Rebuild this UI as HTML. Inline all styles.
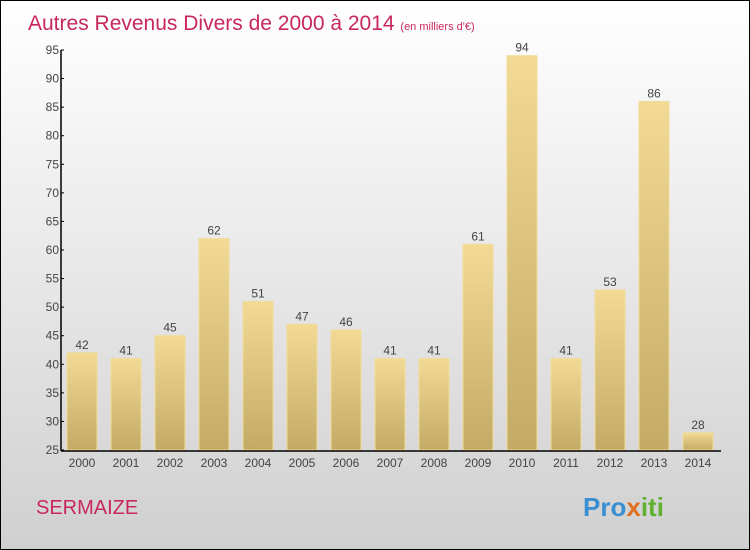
<!DOCTYPE html>
<html><head><meta charset="utf-8"><style>
body{margin:0}
#c{width:748px;height:548px;border:1px solid #000;background:linear-gradient(#fff,#d0d0d0);position:relative;font-family:"Liberation Sans",sans-serif;overflow:hidden}
</style></head><body>
<div id="c">
<svg width="748" height="548" id="s">
<defs><linearGradient id="g" x1="0" y1="0" x2="0" y2="1"><stop offset="0" stop-color="#f3da94"/><stop offset="1" stop-color="#c3aa65"/></linearGradient></defs>
<text x="27" y="29" font-size="21" fill="#c8285a">Autres Revenus Divers de 2000 à 2014 <tspan font-size="11">(en milliers d'€)</tspan></text>
<text x="35" y="513" font-size="20" fill="#c8285a">SERMAIZE</text>
<text x="582" y="515" font-size="26" font-weight="bold" fill="#3a8fd0">Pro<tspan fill="#e07020">x</tspan><tspan fill="#60b030">iti</tspan></text>
<g id="plot"></g>
</svg></div>
<script>
const years=["2000","2001","2002","2003","2004","2005","2006","2007","2008","2009","2010","2011","2012","2013","2014"];
const values=[42,41,45,62,51,47,46,41,41,61,94,41,53,86,28];
const yTicks=[25,30,35,40,45,50,55,60,65,70,75,80,85,90,95];
const ns="http://www.w3.org/2000/svg",p=document.getElementById('plot');
const y=v=>449-(v-25)*400/70, x=i=>81+i*44;
function mk(t,a){const e=document.createElementNS(ns,t);for(const k in a)e.setAttribute(k,a[k]);p.appendChild(e);return e;}
values.forEach((v,i)=>{
 const r=mk('rect',{x:x(i)-15,y:y(v),width:30,height:449-y(v),fill:'url(#g)',stroke:'#f0dc9a','stroke-width':1});
 
 
 const t=mk('text',{x:x(i),y:y(v)-4,'font-size':12,'text-anchor':'middle',fill:'#444'});t.textContent=v;
 
 
 const l=mk('text',{x:x(i),y:466,'font-size':12,'text-anchor':'middle',fill:'#444'});l.textContent=years[i];
 
 
});
yTicks.forEach(v=>{
 mk('line',{x1:60,x2:63,y1:y(v),y2:y(v),stroke:'#000'});
 const t=mk('text',{x:58,y:y(v)+4,'font-size':12,'text-anchor':'end',fill:'#444'});t.textContent=v;
 
 
});
const ax=mk('line',{x1:60,x2:60,y1:y(95),y2:450,stroke:'#000','stroke-width':1.5});


const bx=mk('line',{x1:60,x2:720,y1:450,y2:450,stroke:'#000','stroke-width':1.5});


</script>
</body></html>
